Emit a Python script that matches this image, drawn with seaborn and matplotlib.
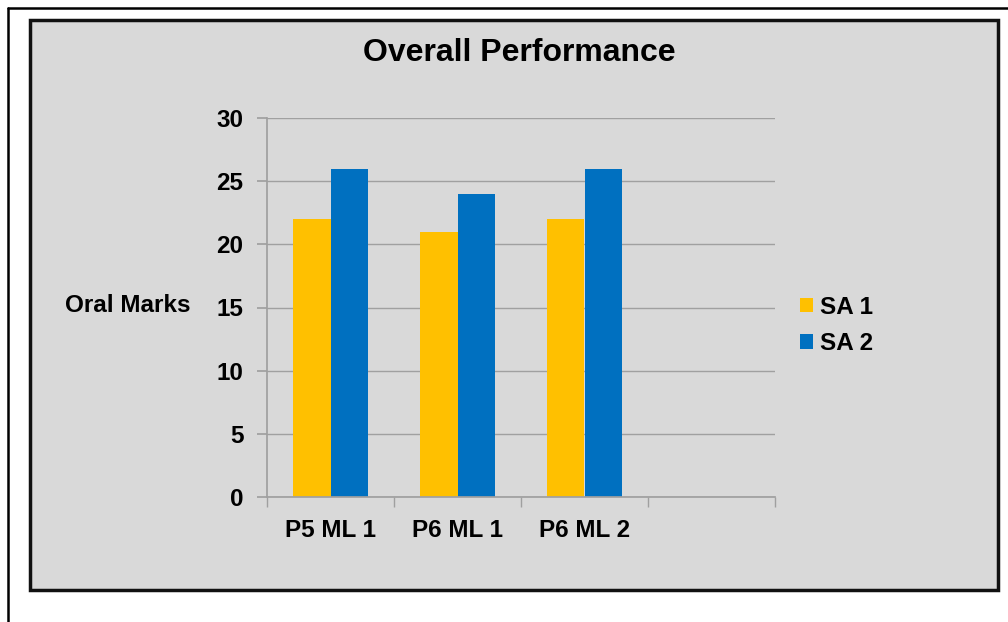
import pandas as pd
import numpy as np
import matplotlib.pyplot as plt
import seaborn as sns
from matplotlib.patches import Rectangle
from matplotlib.lines import Line2D

categories = ["P5 ML 1", "P6 ML 1", "P6 ML 2"]
sa1 = [22, 21, 22]
sa2 = [26, 24, 26]
series = ["SA 1", "SA 2"]
colors = ["#FFC000", "#0070C0"]

df = pd.DataFrame({
    "Exam": categories * 2,
    "Marks": sa1 + sa2,
    "Series": ["SA 1"] * 3 + ["SA 2"] * 3,
})
order = categories + [" "]  # empty 4th slot like the original

sns.set_theme(style="white")
plt.rcParams["font.family"] = ["Liberation Sans", "DejaVu Sans"]
plt.rcParams["font.weight"] = "bold"
plt.rcParams["text.color"] = "black"
plt.rcParams["xtick.color"] = "black"
plt.rcParams["ytick.color"] = "black"

W, H = 1008, 622
fs = 17.5
fig = plt.figure(figsize=(W / 100, H / 100), dpi=100)
fig.patch.set_facecolor("white")

# gray panel with black border
panel = Rectangle((30 / W, 1 - 590 / H), 968 / W, 570 / H,
                  transform=fig.transFigure, facecolor="#D9D9D9",
                  edgecolor="#111111", linewidth=2.5, zorder=-5)
fig.add_artist(panel)
# outer frame lines (left and top)
fig.add_artist(Line2D([8 / W, 8 / W], [0, 1 - 8 / H], transform=fig.transFigure,
                      color="black", linewidth=1.8, zorder=-5))
fig.add_artist(Line2D([8 / W, 1], [1 - 8 / H, 1 - 8 / H], transform=fig.transFigure,
                      color="black", linewidth=1.8, zorder=-5))

ax = fig.add_axes([267 / W, 1 - 497 / H, 508 / W, 379 / H])
ax.set_facecolor("none")
ax.set_zorder(2)

sns.barplot(data=df, x="Exam", y="Marks", hue="Series", order=order,
            hue_order=series, palette=colors, width=0.583, saturation=1,
            linewidth=0, ax=ax, legend=False)

ax.set_ylim(0, 30)
ax.set_xlim(-0.5, 3.5)
ax.set_yticks(range(0, 31, 5))
ax.yaxis.grid(True, color="#A0A0A0", linewidth=1)
ax.set_axisbelow(True)
for s in ["top", "right"]:
    ax.spines[s].set_visible(False)
ax.spines["left"].set_color("#A0A0A0")
ax.spines["bottom"].set_color("#A0A0A0")
ax.tick_params(axis="y", length=7, color="#A0A0A0", labelsize=fs, pad=10,
               labelcolor="black", left=True)
ax.tick_params(axis="x", length=0, labelsize=fs, pad=16, labelcolor="black")
ax.set_xticks(range(4))
ax.set_xticklabels(order, fontweight="bold")
for lab in ax.get_yticklabels():
    lab.set_fontweight("bold")
ax.set_xticks(np.arange(-0.5, 4, 1), minor=True)
ax.tick_params(axis="x", which="minor", length=7, color="#A0A0A0",
               direction="out", bottom=True)
ax.set_xlabel("")
ax.set_ylabel("")

fig.text(519 / W, 1 - 53 / H, "Overall Performance", ha="center", va="center",
         fontsize=23, fontweight="bold", color="black")
fig.text(128 / W, 1 - 306 / H, "Oral Marks", ha="center", va="center",
         fontsize=fs, fontweight="bold", color="black")

handles = [Rectangle((0, 0), 1, 1, facecolor=c, edgecolor="none", linewidth=0)
           for c in colors]
fig.legend(handles, series, loc="upper left", bbox_to_anchor=(790 / W, 1 - 286 / H),
           frameon=False, fontsize=fs, handlelength=0.55, handleheight=0.55,
           handletextpad=0.3, labelspacing=0.55, borderaxespad=0)

fig.savefig("out.png", dpi=100)
